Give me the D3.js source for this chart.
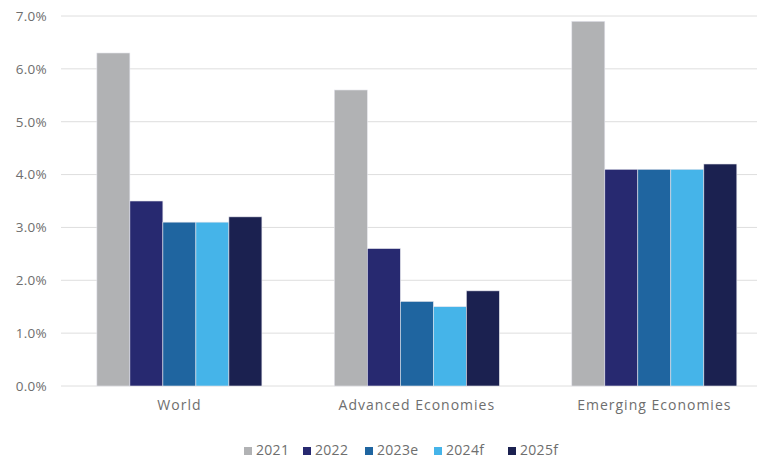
<!DOCTYPE html>
<html>
<head>
<meta charset="utf-8">
<script src="https://cdn.jsdelivr.net/npm/d3@7"></script>
<style>
  body { margin: 0; background: #fff; }
  text { font-family: "Open Sans", Lato, sans-serif; fill: #6e6e6e; }
</style>
</head>
<body>
<div id="chart"></div>
<script>
const categories = ["World", "Advanced Economies", "Emerging Economies"];
const seriesNames = ["2021", "2022", "2023e", "2024f", "2025f"];
const values2021 = [6.3, 5.6, 6.9];
const values2022 = [3.5, 2.6, 4.1];
const values2023e = [3.1, 1.6, 4.1];
const values2024f = [3.1, 1.5, 4.1];
const values2025f = [3.2, 1.8, 4.2];
const yTicks = [0, 1, 2, 3, 4, 5, 6, 7];
const colors = ["#b1b2b4", "#272970", "#1f65a0", "#45b4e9", "#1b2150"];

const allValues = [values2021, values2022, values2023e, values2024f, values2025f];
const data = categories.map((c, i) => ({
    category: c,
    values: seriesNames.map((s, j) => ({ key: s, value: allValues[j][i] }))
}));

const W = 760, H = 459;
const margin = { top: 16, right: 3, bottom: 73, left: 61 };
const width = W - margin.left - margin.right;
const height = H - margin.top - margin.bottom;

const svg = d3.select("#chart").append("svg")
    .attr("width", W).attr("height", H)
    .append("g")
    .attr("transform", `translate(${margin.left},${margin.top})`);

const x0 = d3.scaleBand().domain(categories).range([0, width])
    .paddingInner(0.305).paddingOuter(0.118).align(0.64);
const x1 = d3.scaleBand().domain(seriesNames).range([0, x0.bandwidth()]);
const y = d3.scaleLinear().domain([0, 7]).range([height, 0]);
const color = d3.scaleOrdinal().domain(seriesNames).range(colors);

// gridlines
svg.append("g").selectAll("line")
    .data(yTicks)
    .join("line")
    .attr("x1", 0).attr("x2", width)
    .attr("y1", d => y(d)).attr("y2", d => y(d))
    .attr("stroke", "#dedede").attr("stroke-width", 1);

// y axis labels
const yAxis = svg.append("g")
    .call(d3.axisLeft(y).tickValues(yTicks).tickFormat(d => d.toFixed(1) + "%").tickSize(0).tickPadding(14));
yAxis.select(".domain").remove();
yAxis.selectAll("text")
    .style("font-size", "13.5px")
    .style("letter-spacing", "0.3px")
    .attr("fill", "#6e6e6e");

// bars
svg.append("g").selectAll("g")
    .data(data)
    .join("g")
    .attr("transform", d => `translate(${x0(d.category)},0)`)
    .selectAll("rect")
    .data(d => d.values)
    .join("rect")
    .attr("x", d => x1(d.key))
    .attr("y", d => y(d.value))
    .attr("width", x1.bandwidth())
    .attr("height", d => y(0) - y(d.value))
    .attr("fill", d => color(d.key))
    .attr("stroke", "#e4e4ec")
    .attr("stroke-width", 0.6);

// x axis labels
const xAxis = svg.append("g")
    .attr("transform", `translate(0,${height})`)
    .call(d3.axisBottom(x0).tickSize(0).tickPadding(14));
xAxis.select(".domain").remove();
xAxis.selectAll("text")
    .style("font-size", "14px")
    .style("letter-spacing", "1px")
    .attr("fill", "#6e6e6e");

// legend
const legendX = [244, 303, 365, 434, 508];
const legend = svg.append("g")
    .attr("transform", `translate(${-margin.left},${H - margin.top - 4})`)
    .selectAll("g")
    .data(seriesNames)
    .join("g")
    .attr("transform", (d, i) => `translate(${legendX[i]},0)`);
legend.append("rect")
    .attr("x", 0).attr("y", -8)
    .attr("width", 8).attr("height", 8)
    .attr("fill", d => color(d));
legend.append("text")
    .attr("x", 12).attr("y", 0)
    .style("font-size", "14px")
    .style("letter-spacing", "0.3px")
    .text(d => d);
</script>
</body>
</html>
